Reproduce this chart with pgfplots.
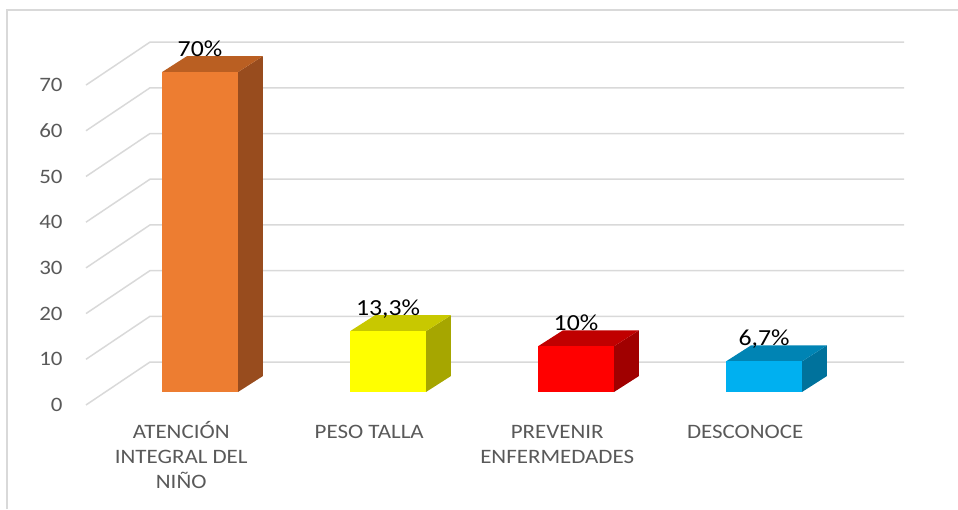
\documentclass[border=0pt]{standalone}
\usepackage{fontspec}
\setmainfont{Carlito}[FakeStretch=1.12]
\usepackage{pgfplots}
\pgfplotsset{compat=1.18}
\definecolor{gridc}{HTML}{D9D9D9}
\definecolor{tickgray}{HTML}{595959}
\definecolor{orF}{HTML}{ED7D31}
\definecolor{orT}{HTML}{BA5F22}
\definecolor{orS}{HTML}{984C1E}
\definecolor{yeF}{HTML}{FFFF00}
\definecolor{yeT}{HTML}{C8C800}
\definecolor{yeS}{HTML}{A6A600}
\definecolor{reF}{HTML}{FF0000}
\definecolor{reT}{HTML}{C00000}
\definecolor{reS}{HTML}{A00000}
\definecolor{blF}{HTML}{00B0F0}
\definecolor{blT}{HTML}{0084B4}
\definecolor{blS}{HTML}{00729C}
\begin{document}
\begin{tikzpicture}
\begin{axis}[
  name=ax,
  scale only axis, width=479pt, height=254.5pt,
  xmin=-1.06383, xmax=4.03191, ymin=-25.602, ymax=85.777,
  axis line style={draw=none}, major tick length=0pt, tick style={draw=none},
  clip=false,
  xtick={-0.1,0.9,1.9,2.9},
  xticklabels={{\strut ATENCIÓN\\INTEGRAL DEL\\NIÑO},{\strut PESO TALLA},{\strut PREVENIR\\ENFERMEDADES},{\strut DESCONOCE}},
  ytick={-2.84,7.16,17.16,27.16,37.16,47.16,57.16,67.16},
  yticklabels={0,10,20,30,40,50,60,70},
  xticklabel style={anchor=north, align=center, inner sep=0pt, font=\fontsize{10.25}{12.5}\selectfont, text=tickgray, yshift=44.25pt},
  yticklabel style={anchor=east, inner sep=0pt, font=\fontsize{10.25}{12.5}\selectfont, text=tickgray, xshift=31.5pt},
  every node near coord/.style={anchor=base, yshift=8pt, font=\fontsize{11.5}{13}\selectfont, text=black},
]
% frame
\draw[gridc, line width=0.8pt] (axis cs:-1.0266,-25.602) -- (axis cs:-1.0266,83.59) -- (axis cs:4.03191,83.59);
% gridlines (front diagonal + back wall)
\addplot[gridc, line width=0.75pt, mark=none] coordinates {(-0.6064,-2.84) (-0.266,6.56) (3.745,6.56)};
\addplot[gridc, line width=0.75pt, mark=none] coordinates {(-0.6064,7.16) (-0.266,16.56) (3.745,16.56)};
\addplot[gridc, line width=0.75pt, mark=none] coordinates {(-0.6064,17.16) (-0.266,26.56) (3.745,26.56)};
\addplot[gridc, line width=0.75pt, mark=none] coordinates {(-0.6064,27.16) (-0.266,36.56) (3.745,36.56)};
\addplot[gridc, line width=0.75pt, mark=none] coordinates {(-0.6064,37.16) (-0.266,46.56) (3.745,46.56)};
\addplot[gridc, line width=0.75pt, mark=none] coordinates {(-0.6064,47.16) (-0.266,56.56) (3.745,56.56)};
\addplot[gridc, line width=0.75pt, mark=none] coordinates {(-0.6064,57.16) (-0.266,66.56) (3.745,66.56)};
\addplot[gridc, line width=0.75pt, mark=none] coordinates {(-0.6064,67.16) (-0.266,76.56) (3.745,76.56)};
% ATENCION INTEGRAL DEL NINO: 70
\addplot[fill=orS, draw=none, mark=none] coordinates {(0.202,0) (0.335,3.5) (0.335,73.5) (0.202,70)} -- cycle;
\addplot[fill=orT, draw=none, mark=none] coordinates {(-0.202,70) (0.202,70) (0.335,73.5) (-0.069,73.5)} -- cycle;
\addplot[ybar, bar width=0.404, bar shift=0, fill=orF, draw=none, nodes near coords, point meta=explicit symbolic] coordinates {(0,70) [70\%]};
% PESO TALLA: 13.3
\addplot[fill=yeS, draw=none, mark=none] coordinates {(1.202,0) (1.335,3.5) (1.335,16.8) (1.202,13.3)} -- cycle;
\addplot[fill=yeT, draw=none, mark=none] coordinates {(0.798,13.3) (1.202,13.3) (1.335,16.8) (0.931,16.8)} -- cycle;
\addplot[ybar, bar width=0.404, bar shift=0, fill=yeF, draw=none, nodes near coords, point meta=explicit symbolic] coordinates {(1,13.3) [13,3\%]};
% PREVENIR ENFERMEDADES: 10
\addplot[fill=reS, draw=none, mark=none] coordinates {(2.202,0) (2.335,3.5) (2.335,13.5) (2.202,10)} -- cycle;
\addplot[fill=reT, draw=none, mark=none] coordinates {(1.798,10) (2.202,10) (2.335,13.5) (1.931,13.5)} -- cycle;
\addplot[ybar, bar width=0.404, bar shift=0, fill=reF, draw=none, nodes near coords, point meta=explicit symbolic] coordinates {(2,10) [10\%]};
% DESCONOCE: 6.7
\addplot[fill=blS, draw=none, mark=none] coordinates {(3.202,0) (3.335,3.5) (3.335,10.2) (3.202,6.7)} -- cycle;
\addplot[fill=blT, draw=none, mark=none] coordinates {(2.798,6.7) (3.202,6.7) (3.335,10.2) (2.931,10.2)} -- cycle;
\addplot[ybar, bar width=0.404, bar shift=0, fill=blF, draw=none, nodes near coords, point meta=explicit symbolic] coordinates {(3,6.7) [6,7\%]};
\end{axis}
\pgfresetboundingbox
\path[use as bounding box] (ax.south west) rectangle (ax.north east);
\end{tikzpicture}
\end{document}
